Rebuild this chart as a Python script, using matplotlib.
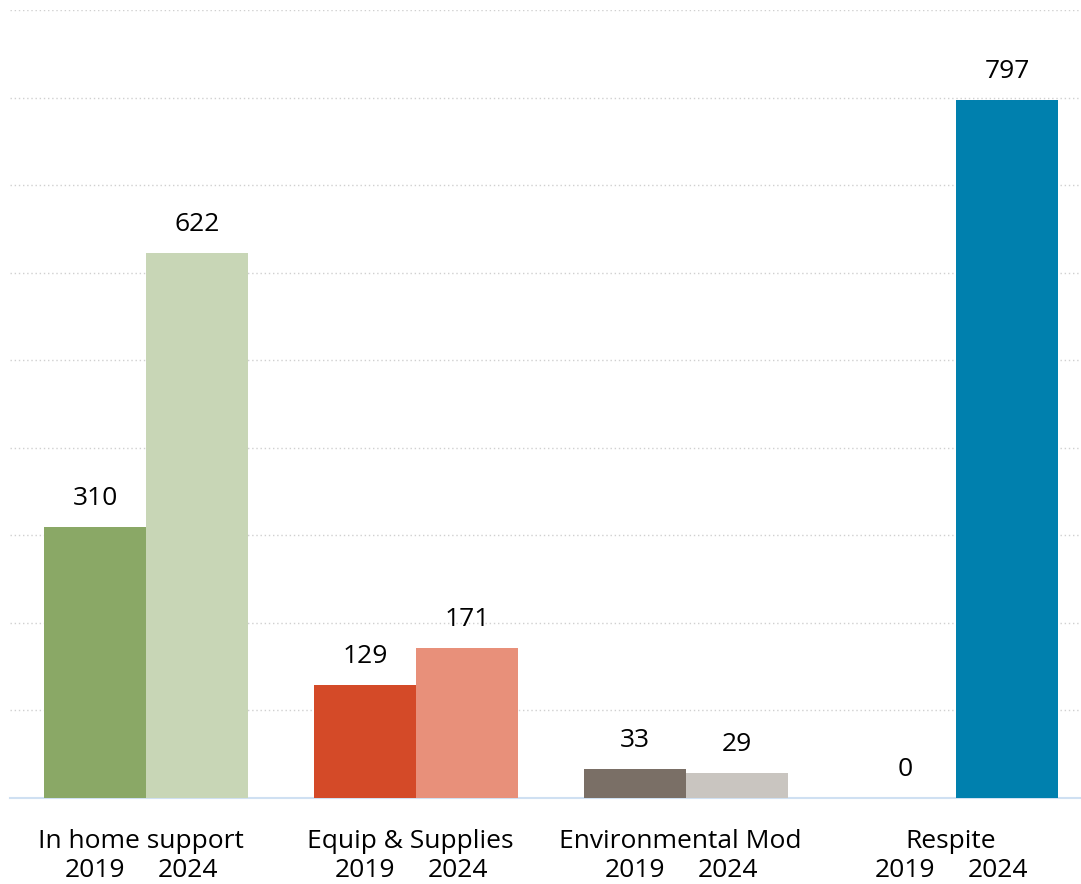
import matplotlib
matplotlib.use("Agg")
import matplotlib.pyplot as plt
import numpy as np

# ----------------------------------------------------------------------------
#  DATA
# ----------------------------------------------------------------------------
categories  = ["In home support", "Equip & Supplies", "Environmental Mod", "Respite"]
years       = ["2019", "2024"]
values_2019 = [310, 129, 33, 0]
values_2024 = [622, 171, 29, 797]

colors_2019 = ["#8AA866", "#D44A28", "#7A6F66", "#9DC3E6"]
colors_2024 = ["#C8D6B6", "#E8907A", "#C9C5C0", "#0080AE"]

# ----------------------------------------------------------------------------
#  PLOT
# ----------------------------------------------------------------------------
plt.rcParams['font.family'] = ['Open Sans', 'DejaVu Sans']
fs = 19

fig = plt.figure(figsize=(10.81, 8.84), dpi=100)
ax  = fig.add_axes([10/1081, 86/884, 1 - 10/1081, (798 - 10)/884])

x     = np.arange(len(categories))
width = 0.378

bars_1 = ax.bar(x - width/2, values_2019, width, color=colors_2019, zorder=3)
bars_2 = ax.bar(x + width/2, values_2024, width, color=colors_2024, zorder=3)

for bars in (bars_1, bars_2):
    for b in bars:
        h = b.get_height()
        ax.annotate(f"{h:.0f}", (b.get_x() + b.get_width()/2, h),
                    xytext=(0, 20.5), textcoords="offset points",
                    ha="center", va="center", fontsize=fs, color="black")

ax.set_xlim(-0.504, 3.463)
ax.set_ylim(0, 900)
ax.set_yticks(np.arange(100, 901, 100))
ax.yaxis.grid(True, linestyle=(0, (1, 2)), color="#d0d0d0", linewidth=1.0)
ax.set_axisbelow(True)

for s in ["top", "right", "left"]:
    ax.spines[s].set_visible(False)
ax.spines["bottom"].set_color("#cfe0f2")
ax.spines["bottom"].set_linewidth(1.5)
ax.tick_params(left=False, bottom=False, labelleft=False, labelbottom=False)

# category and year labels under the axis
for i, cat in enumerate(categories):
    ax.annotate(cat, (x[i], 0), xytext=(-4, -31.5), textcoords="offset points",
                ha="center", va="center", fontsize=fs)
    ax.annotate(years[0], (x[i], 0), xytext=(-37, -52), textcoords="offset points",
                ha="center", va="center", fontsize=fs)
    ax.annotate(years[1], (x[i], 0), xytext=(30, -52), textcoords="offset points",
                ha="center", va="center", fontsize=fs)

fig.savefig("out.png", dpi=100)
